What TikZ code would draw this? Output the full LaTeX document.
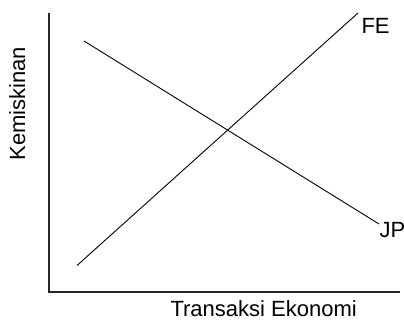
\documentclass[tikz,border=0pt]{standalone}
\usepackage{fontspec}
\setmainfont{Liberation Sans}
\begin{document}
\begin{tikzpicture}[x=1pt,y=-1pt,
  lbl/.style={inner sep=0pt,outer sep=0pt,font=\fontsize{22}{24}\selectfont},
  axis/.style={line width=1.3pt,black!85},
  curve/.style={line width=0.9pt,black}]
\useasboundingbox (0,0) rectangle (404,320);
\coordinate (o) at (49,292);
\coordinate (ytop) at (49,13);
\coordinate (xend) at (400,292);
\draw[axis] (ytop) -- (o) -- (xend);
\coordinate (fe1) at (77,265.5);
\coordinate (fe2) at (358,13);
\coordinate (jp1) at (84,41);
\coordinate (jp2) at (379,224);
\draw[curve] (fe1) -- (fe2);
\draw[curve] (jp1) -- (jp2);
\node[lbl,anchor=base west] (fe) at (361.5,33.3) {FE};
\node[lbl,anchor=base west] (jp) at (379.5,238) {JP};
\node[lbl,anchor=base west] (xl) at (170.5,316.7) {Transaksi Ekonomi};
\node[lbl,anchor=base west,rotate=90] (yl) at (25,160.5) {Kemiskinan};
\end{tikzpicture}
\end{document}
